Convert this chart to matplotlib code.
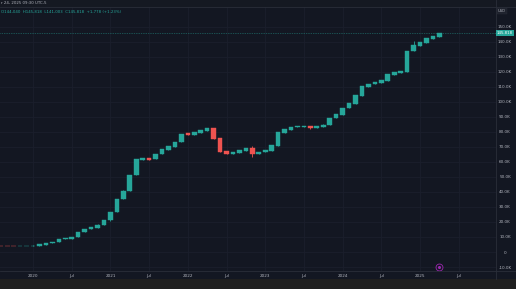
import matplotlib
matplotlib.use("Agg")
import matplotlib.pyplot as plt
from matplotlib.patches import Rectangle

# ---- data (monthly candles, Aug 2019 .. Apr 2025) ----
months = ["2019-08", "2019-09", "2019-10", "2019-11", "2019-12",
          "2020-01", "2020-02", "2020-03", "2020-04", "2020-05", "2020-06",
          "2020-07", "2020-08", "2020-09", "2020-10", "2020-11", "2020-12",
          "2021-01", "2021-02", "2021-03", "2021-04", "2021-05", "2021-06",
          "2021-07", "2021-08", "2021-09", "2021-10", "2021-11", "2021-12",
          "2022-01", "2022-02", "2022-03", "2022-04", "2022-05", "2022-06",
          "2022-07", "2022-08", "2022-09", "2022-10", "2022-11", "2022-12",
          "2023-01", "2023-02", "2023-03", "2023-04", "2023-05", "2023-06",
          "2023-07", "2023-08", "2023-09", "2023-10", "2023-11", "2023-12",
          "2024-01", "2024-02", "2024-03", "2024-04", "2024-05", "2024-06",
          "2024-07", "2024-08", "2024-09", "2024-10", "2024-11", "2024-12",
          "2025-01", "2025-02", "2025-03", "2025-04"]
opens = [4100, 4000, 4050, 3850, 3950,
         4000, 4300, 4700, 6200, 6400, 8500,
         8700, 10000, 13100, 15100, 16200, 18300,
         21000, 26400, 35100, 40600, 51300, 61300,
         62400, 61700, 65300, 67700, 70100, 73400,
         79000, 77700, 79000, 80600, 82400, 75700,
         67000, 65400, 66100, 67400, 69400, 65250,
         66400, 67400, 70600, 79400, 81400, 83000,
         83100, 84100, 82800, 83200, 84600, 89000,
         91400, 95900, 98700, 104100, 110100, 111700,
         112300, 114100, 118000, 119000, 119800, 133800,
         137000, 139000, 141800, 143300]
closes = [4000, 3950, 3850, 3900, 4100,
          4300, 5400, 6200, 6850, 8600, 9500,
          10200, 13500, 15500, 16800, 18300, 21000,
          26400, 35300, 40800, 51100, 61700, 62400,
          61300, 65400, 68400, 70400, 73400, 78400,
          78100, 79700, 81000, 82600, 75200, 66600,
          65450, 66800, 67900, 69400, 65250, 66600,
          67900, 71000, 79900, 81900, 83400, 83900,
          84100, 82800, 83700, 84800, 89400, 91900,
          96100, 99000, 104500, 110500, 111900, 113000,
          114500, 118300, 119800, 120700, 133600, 137800,
          139600, 142300, 144000, 145818]
highs = [4200, 4100, 4100, 3950, 4150,
         4350, 5500, 6300, 6950, 8700, 9600,
         10300, 13600, 15600, 16900, 18400, 21100,
         26500, 35400, 41000, 51300, 61900, 62600,
         62500, 65500, 68500, 70500, 73500, 78500,
         79100, 79800, 81100, 82700, 82500, 75800,
         67100, 66900, 68000, 69500, 70400, 66700,
         68000, 71100, 80000, 82000, 83500, 84000,
         84200, 84200, 83800, 84900, 89500, 92000,
         96200, 99100, 104600, 110600, 112000, 113100,
         114600, 118400, 119900, 120800, 133700, 140400,
         139700, 142400, 144100, 145900]
lows = [3950, 3900, 3800, 3800, 3900,
        3950, 4250, 4650, 6150, 6350, 8400,
        8650, 9950, 13050, 15050, 16150, 18250,
        20950, 26350, 35000, 40500, 51200, 61200,
        61200, 61600, 65200, 67600, 70000, 73300,
        78000, 77600, 78900, 80500, 75100, 66500,
        65400, 65350, 66000, 67300, 63050, 65200,
        66300, 67300, 70500, 79300, 81300, 82900,
        83000, 81900, 82700, 83100, 84500, 88900,
        91300, 95800, 98600, 104000, 110000, 111600,
        112200, 114000, 117900, 118900, 119700, 133700,
        136900, 138900, 141700, 143200]
last_price = 145818
ytick_values = list(range(-10000, 150001, 10000))

BG = "#131722"
UP = "#26a69a"
DN = "#ef5350"
TXT = "#b2b5be"
GRID = "#1b1f2c"

W, H = 516, 289
fig = plt.figure(figsize=(W / 100, H / 100), dpi=100, facecolor=BG)

def fx(px):
    return px / W

def fy(py):
    return 1 - py / H

# axes: x 0..496 px, y 7..271 px
ax = fig.add_axes([0, fy(271), fx(496), (271 - 7) / H])
ax.set_facecolor(BG)
for s in ax.spines.values():
    s.set_visible(False)

xs = list(range(len(months)))
for x, o, c, h, l in zip(xs, opens, closes, highs, lows):
    col = UP if c >= o else DN
    ax.vlines(x, l, h, color=col, linewidth=0.6, zorder=3)
    lo, hi = min(o, c), max(o, c)
    ax.add_patch(Rectangle((x - 0.36, lo), 0.72, max(hi - lo, 150),
                           facecolor=col, edgecolor=col, linewidth=0.3, zorder=4))

ax.set_xlim(-0.12, 76.78)
ax.set_ylim(-12650, 163120)

# x ticks: Jan -> year, Jul -> "Jul"
tpos, tlab = [], []
for i, m in enumerate(months + ["2025-05", "2025-06", "2025-07"]):
    y, mo = m.split("-")
    if mo == "01":
        tpos.append(i); tlab.append(y)
    elif mo == "07":
        tpos.append(i); tlab.append("Jul")
ax.set_xticks(tpos)
ax.set_xticklabels(tlab)
ax.set_yticks(ytick_values)
ax.set_yticklabels(["0" if v == 0 else f"{v/1000:.1f}K" for v in ytick_values])
ax.yaxis.tick_right()
ax.tick_params(axis="both", colors=TXT, labelsize=3.0, length=0)
ax.tick_params(axis="y", pad=6.5)
ax.tick_params(axis="x", pad=2.5)
for tl in ax.get_yticklabels():
    tl.set_horizontalalignment("center")
ax.grid(True, color=GRID, linewidth=0.6, zorder=0)
ax.set_axisbelow(True)

# last price line
ax.axhline(last_price, color=UP, linewidth=0.5, linestyle=(0, (1, 1.5)), alpha=0.8, zorder=2)

# right axis separator and bottom separator
fig.add_artist(plt.Line2D([fx(496), fx(496)], [fy(279), 1], color="#2a2e39", linewidth=0.6))
fig.add_artist(plt.Line2D([0, 1], [fy(271), fy(271)], color="#2a2e39", linewidth=0.6))

# bottom bar
fig.add_artist(Rectangle((0, 0), 1, (289 - 279) / H, transform=fig.transFigure,
                         facecolor="#1f1f1f", edgecolor="none"))

# top header strip
fig.add_artist(Rectangle((0, fy(7)), 1, 7 / H, transform=fig.transFigure,
                         facecolor="#151922", edgecolor="none"))
fig.add_artist(plt.Line2D([0, 1], [fy(7), fy(7)], color="#2a2e39", linewidth=0.6))
fig.text(fx(1), fy(3.5), "r 24, 2025 09:30 UTC-5", color=TXT, fontsize=2.8, va="center", ha="left")
fig.text(fx(1), fy(12), "O144,040  H145,818  L141,003  C145,818  +1,778 (+1.23%)",
         color=UP, fontsize=2.8, va="center", ha="left")

# price label box on the axis
py = 252 - last_price / 665.8
fig.text(fx(505), fy(py), f"{last_price:,}", color="white", fontsize=2.8,
         ha="center", va="center",
         bbox=dict(boxstyle="square,pad=0.35", facecolor=UP, edgecolor="none"))
fig.text(fx(502), fy(11), "USD", color=TXT, fontsize=2.6, ha="center", va="center",
         bbox=dict(boxstyle="square,pad=0.35", facecolor="#1e222d", edgecolor="#2a2e39", linewidth=0.3))

# event marker
ax.plot([68], [-9987], marker="o", markersize=5, markerfacecolor="none",
        markeredgecolor="#9c27b0", markeredgewidth=0.6, clip_on=False, zorder=5)
ax.plot([68], [-9987], marker="o", markersize=1.2, color="#9c27b0", clip_on=False, zorder=5)

fig.savefig("out.png", dpi=100, facecolor=BG)
